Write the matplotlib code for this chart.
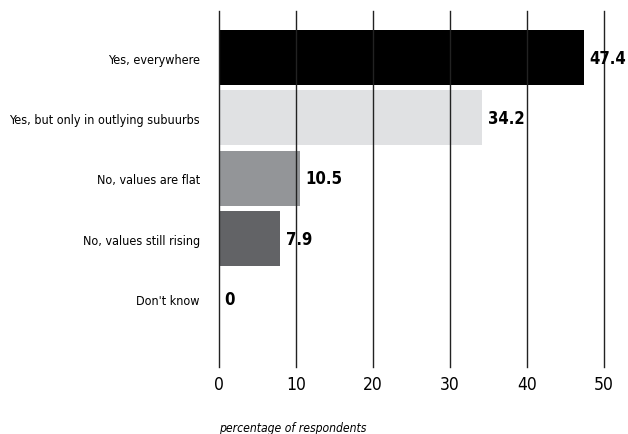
import matplotlib.pyplot as plt

categories = ['Yes, everywhere', 'Yes, but only in outlying subuurbs',
              'No, values are flat', 'No, values still rising', "Don't know"]
values = [47.4, 34.2, 10.5, 7.9, 0]
value_labels = ['47.4', '34.2', '10.5', '7.9', '0']
colors = ['#000000', '#e0e1e3', '#939598', '#626366', '#000000']
xticks = [0, 10, 20, 30, 40, 50]

plt.rcParams['font.family'] = ['DejaVu Sans']
plt.rcParams['font.stretch'] = 'condensed'

fig = plt.figure(figsize=(6.28, 4.35), dpi=100)
ax = fig.add_axes([0.349, 0.154, 0.613, 0.818])

ypos = list(range(len(categories)))
ax.barh(ypos, values, height=0.91, color=colors, zorder=1)

for y, v, lab in zip(ypos, values, value_labels):
    ax.annotate(lab, (v, y), xytext=(4, 0), textcoords='offset points',
                ha='left', va='center', fontsize=12, fontweight='bold',
                fontstretch='condensed', zorder=3)

ax.set_xlim(0, 50)
ax.set_ylim(5.13, -0.77)
ax.set_xticks(xticks)
ax.set_xticklabels([str(t) for t in xticks], fontsize=12.5, fontstretch='condensed')
ax.set_yticks(ypos)
ax.set_yticklabels(categories, fontsize=9, fontstretch='condensed')
ax.tick_params(axis='both', length=0)
ax.tick_params(axis='x', pad=6)
ax.tick_params(axis='y', pad=14)

for t in xticks:
    ax.axvline(t, color='#222222', linewidth=1, zorder=2, clip_on=False)

for s in ax.spines.values():
    s.set_visible(False)

fig.text(219 / 628, 1 - 429 / 435, 'percentage of respondents', fontsize=8.7,
         style='italic', fontstretch='condensed', ha='left', va='center')

fig.savefig('out.png', dpi=100)
